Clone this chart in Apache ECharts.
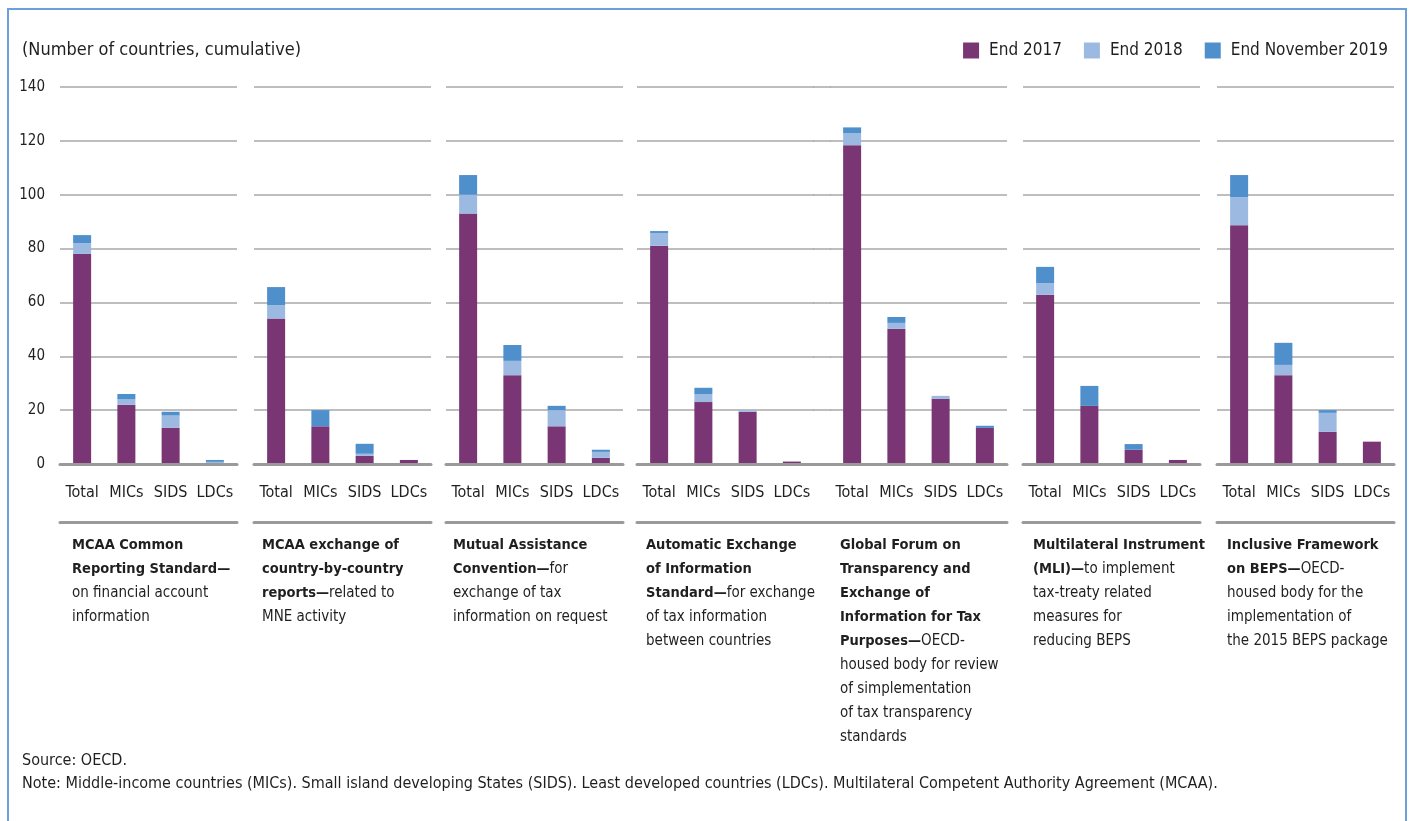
<!DOCTYPE html>
<html>
<head>
<meta charset="utf-8">
<script src="https://cdn.jsdelivr.net/npm/echarts/dist/echarts.min.js"></script>
<style>
html,body{margin:0;padding:0;background:#fff;}
#chart{width:1410px;height:821px;}
</style>
</head>
<body>
<div id="chart"></div>
<script>
// ---------------- DATA ----------------
const categories = ['Total', 'MICs', 'SIDS', 'LDCs'];
const seriesNames = ['End 2017', 'End 2018', 'End November 2019'];
const yTickValues = [0, 20, 40, 60, 80, 100, 120, 140];

// cumulative number of countries, one sub-array per instrument (Total, MICs, SIDS, LDCs)
const end2017 = [
  [78, 22, 13.5, 0],
  [54, 14, 3, 1.5],
  [93, 33, 14, 2.3],
  [81, 23, 19.4, 0.9],
  [118.4, 50.2, 24.2, 13.4],
  [62.8, 21.6, 5.3, 1.5],
  [88.7, 33, 12, 8.3]
];
const end2018 = [
  [82, 24, 18, 0.8],
  [59, 14, 3.8, 1.5],
  [100, 38.3, 20, 4.5],
  [85.8, 26, 20, 0.9],
  [122.8, 52.4, 25.3, 13.4],
  [67.2, 21.6, 5.3, 1.5],
  [99.1, 36.8, 19, 8.3]
];
const endNov2019 = [
  [85, 26, 19.4, 1.5],
  [65.7, 20, 7.5, 1.5],
  [107.3, 44.2, 21.6, 5.3],
  [86.5, 28.3, 20, 0.9],
  [125, 54.6, 25.3, 14.2],
  [73.2, 29, 7.4, 1.5],
  [107.3, 45, 20, 8.3]
];

const captions = [
  '{b|MCAA Common}\n{b|Reporting Standard—}\n{r|on financial account}\n{r|information}',
  '{b|MCAA exchange of}\n{b|country-by-country}\n{b|reports—}{r|related to}\n{r|MNE activity}',
  '{b|Mutual Assistance}\n{b|Convention—}{r|for}\n{r|exchange of tax}\n{r|information on request}',
  '{b|Automatic Exchange}\n{b|of Information}\n{b|Standard—}{r|for exchange}\n{r|of tax information}\n{r|between countries}',
  '{b|Global Forum on}\n{b|Transparency and}\n{b|Exchange of}\n{b|Information for Tax}\n{b|Purposes—}{r|OECD-}\n{r|housed body for review}\n{r|of simplementation}\n{r|of tax transparency}\n{r|standards}',
  '{b|Multilateral Instrument}\n{b|(MLI)—}{r|to implement}\n{r|tax-treaty related}\n{r|measures for}\n{r|reducing BEPS}',
  '{b|Inclusive Framework}\n{b|on BEPS—}{r|OECD-}\n{r|housed body for the}\n{r|implementation of}\n{r|the 2015 BEPS package}'
];
const yTitle = '(Number of countries, cumulative)';
const sourceText = 'Source: OECD.';
const noteText = 'Note: Middle-income countries (MICs). Small island developing States (SIDS). Least developed countries (LDCs). Multilateral Competent Authority Agreement (MCAA).';

// ---------------- STYLE / LAYOUT ----------------
const colors = ['#7a3674', '#9cbae1', '#4e8fcc'];
const textColor = '#1f1f1f';
const gridColor = '#a9a9a9';
const axisColor = '#9a9a9a';
const panelLefts = [60, 254, 446, 637, 830, 1023, 1217];
const panelWidth = 177;
const captionLefts = [72, 262, 453, 646, 840, 1033, 1227];
const gridTop = 87, gridHeight = 377;

// font choice & sizing by measured widths
const mctx = document.createElement('canvas').getContext('2d');
function pickFamily() {
  const cands = ['Liberation Sans Narrow', 'DejaVu Sans Condensed', 'Roboto Condensed'];
  const s = 'abcdefghijklmnopqrstuvwxyz0123456789ABCDEF';
  mctx.font = '40px monospace';
  const base = mctx.measureText(s).width;
  for (const f of cands) {
    mctx.font = '40px "' + f + '", monospace';
    if (Math.abs(mctx.measureText(s).width - base) > 0.5) return f;
  }
  return 'Roboto';
}
const FAM = pickFamily();
const FONT = '"' + FAM + '", Roboto, sans-serif';
function fit(text, target, weight) {
  mctx.font = (weight || 'normal') + ' 100px "' + FAM + '"';
  return Math.round(2 * 100 * target / mctx.measureText(text).width) / 2;
}
const fsTitle = fit(yTitle, 277);
const fsLegend = fit('End November 2019', 158);
const fsCat = fit('Total', 33);
const fsY = fit('140', 26);
const fsCapR = fit('information on request', 157);
const fsCapB = fit('Multilateral Instrument', 173, 'bold');
const fsNote = fit(noteText, 1206);

// ---------------- BUILD OPTION ----------------
const grids = [], xAxes = [], yAxes = [], series = [];
function addPanel(left, width, cats, showY) {
  const gi = grids.length;
  grids.push({ left: left, top: gridTop, width: width, height: gridHeight, containLabel: false });
  const xi = xAxes.length;
  xAxes.push({
    type: 'category', gridIndex: gi, data: cats, position: 'bottom',
    axisLine: { show: true, onZero: false, lineStyle: { color: axisColor, width: 3 } },
    axisTick: { show: false },
    axisLabel: { show: true, margin: 21, fontSize: fsCat, fontFamily: FONT, color: textColor, interval: 0 },
    z: 5
  });
  xAxes.push({
    type: 'category', gridIndex: gi, data: cats, position: 'bottom', offset: 58,
    axisLine: { show: true, onZero: false, lineStyle: { color: axisColor, width: 3 } },
    axisTick: { show: false }, axisLabel: { show: false }
  });
  const yi = yAxes.length;
  yAxes.push({
    type: 'value', gridIndex: gi, min: yTickValues[0], max: yTickValues[yTickValues.length - 1],
    interval: yTickValues[1] - yTickValues[0],
    axisLine: { show: false }, axisTick: { show: false },
    axisLabel: { show: showY, margin: 15, fontSize: fsY, fontFamily: FONT, color: textColor },
    splitLine: { show: true, lineStyle: { color: gridColor, width: 1.5 } }
  });
  return { xi: xi, yi: yi };
}

for (let p = 0; p < 7; p++) {
  const ax = addPanel(panelLefts[p], panelWidth, categories, p === 0);
  const inc18 = end2018[p].map((v, i) => +(v - end2017[p][i]).toFixed(2));
  const inc19 = endNov2019[p].map((v, i) => +(v - end2018[p][i]).toFixed(2));
  const parts = [end2017[p], inc18, inc19];
  for (let s = 0; s < 3; s++) {
    series.push({
      type: 'bar', name: seriesNames[s], stack: 'p' + p,
      xAxisIndex: ax.xi, yAxisIndex: ax.yi,
      data: parts[s], barWidth: 18,
      itemStyle: { color: colors[s] },
      emphasis: { disabled: true },
      silent: true
    });
  }
}
// bridge between panels 4 and 5 (continuous gridlines and separator)
addPanel(panelLefts[3] + panelWidth - 1, panelLefts[4] - panelLefts[3] - panelWidth + 2, [''], false);
xAxes[xAxes.length - 2].axisLabel.show = false;

const titles = [
  { text: yTitle, left: 22, top: 38, padding: 0,
    textStyle: { fontSize: fsTitle, fontFamily: FONT, fontWeight: 'normal', color: textColor, lineHeight: 24 } },
  { text: sourceText + '\n' + noteText, left: 22, top: 749, padding: 0,
    textStyle: { fontSize: fsNote, fontFamily: FONT, fontWeight: 'normal', color: textColor, lineHeight: 23 } }
];
for (let p = 0; p < 7; p++) {
  titles.push({
    text: captions[p], left: captionLefts[p], top: 533, padding: 0,
    textStyle: {
      fontSize: fsCapR, fontFamily: FONT, color: textColor, lineHeight: 24,
      rich: {
        b: { fontWeight: 'bold', fontSize: fsCapB, fontFamily: FONT, color: textColor, lineHeight: 24 },
        r: { fontWeight: 'normal', fontSize: fsCapR, fontFamily: FONT, color: textColor, lineHeight: 24 }
      }
    }
  });
}

const option = {
  animation: false,
  backgroundColor: '#ffffff',
  title: titles,
  legend: {
    data: seriesNames, right: 22, top: 42, padding: 0,
    icon: 'rect', itemWidth: 16, itemHeight: 16, itemGap: 22,
    textStyle: { fontSize: fsLegend, fontFamily: FONT, color: textColor, padding: [0, 0, 0, 5] },
    selectedMode: false
  },
  grid: grids, xAxis: xAxes, yAxis: yAxes, series: series,
  graphic: [{
    type: 'rect', silent: true, z: 100,
    shape: { x: 8, y: 9, width: 1398, height: 840 },
    style: { fill: 'none', stroke: '#6aa1dc', lineWidth: 2 }
  }]
};

const chart = echarts.init(document.getElementById('chart'), null, { renderer: 'canvas' });
chart.setOption(option);
</script>
</body>
</html>
